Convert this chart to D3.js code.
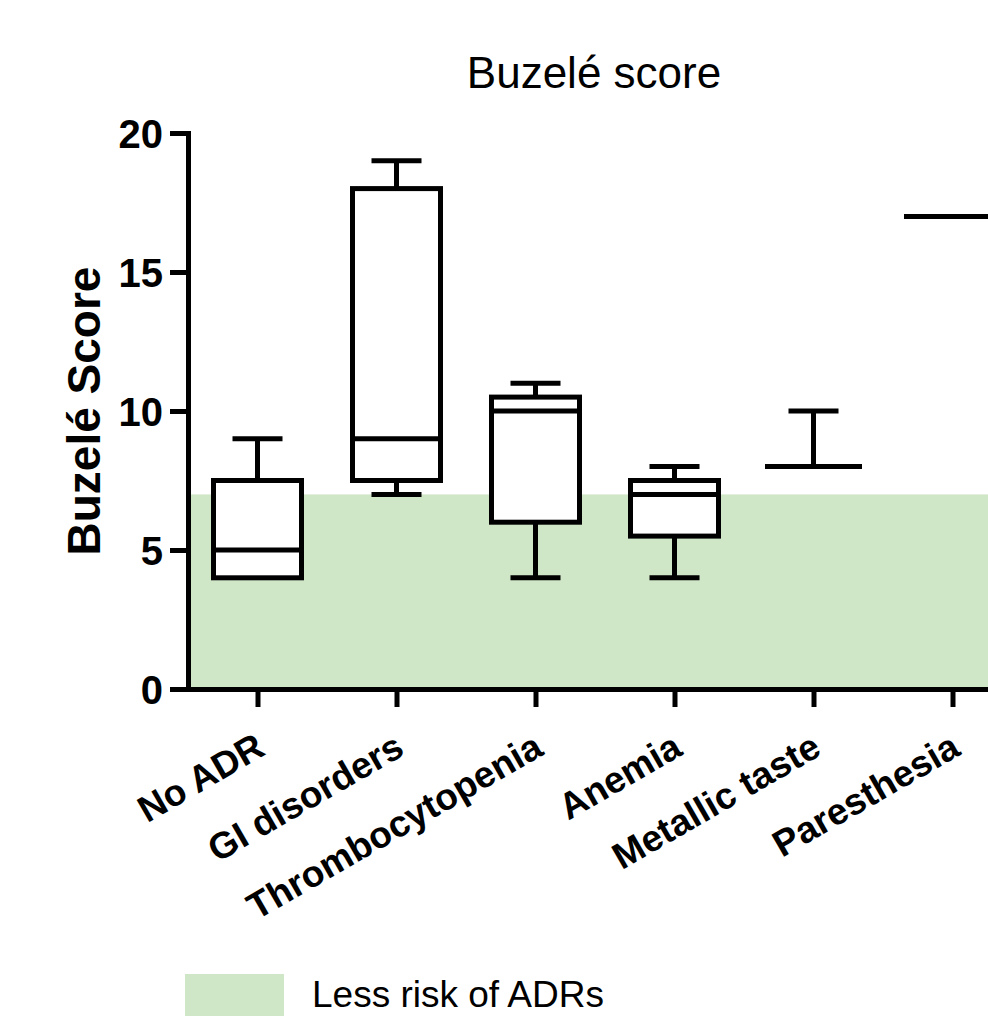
<!DOCTYPE html>
<html>
<head>
<meta charset="utf-8">
<script src="https://cdn.jsdelivr.net/npm/d3@7"></script>
<style>
  html, body { margin: 0; padding: 0; background: #fff; }
  svg { display: block; }
  text { font-family: "Liberation Sans", Arial, Helvetica, sans-serif; fill: #000; }
</style>
</head>
<body>
<svg id="chart" width="988" height="1016"></svg>
<script>
const categories = ["No ADR", "GI disorders", "Thrombocytopenia", "Anemia", "Metallic taste", "Paresthesia"];
const minVals    = [4, 7, 4, 4, 8, 17];
const q1Vals     = [4, 7.5, 6, 5.5, 8, 17];
const medianVals = [5, 9, 10, 7, 8, 17];
const q3Vals     = [7.5, 18, 10.5, 7.5, 8, 17];
const maxVals    = [9, 19, 11, 8, 10, 17];
const yTicks     = [0, 5, 10, 15, 20];
const riskThreshold = 7;
const titleText = "Buzelé score";
const yLabelText = "Buzelé Score";
const legendText = "Less risk of ADRs";

const boxes = categories.map((c, i) => ({
  cat: c, min: minVals[i], q1: q1Vals[i], med: medianVals[i], q3: q3Vals[i], max: maxVals[i]
}));

const svg = d3.select("#chart");
const plotLeft = 188, plotRight = 1022, plotTop = 133, plotBottom = 689;

const y = d3.scaleLinear().domain([0, 20]).range([plotBottom, plotTop]);
const x = d3.scalePoint().domain(categories).range([plotLeft, plotRight]).padding(0.5);

const green = "rgb(207,230,199)";
const sw = 5;
const boxHalf = 44;
const capHalf = 25;

// shaded region
svg.append("rect")
  .attr("x", plotLeft + 2).attr("y", y(riskThreshold))
  .attr("width", plotRight - plotLeft).attr("height", y(0) - y(riskThreshold))
  .attr("fill", green);

// boxes
const g = svg.append("g").attr("fill", "none").attr("stroke", "#000").attr("stroke-width", sw);
boxes.forEach(b => {
  const cx = x(b.cat);
  if (b.max > b.q3) {
    g.append("line").attr("x1", cx).attr("x2", cx).attr("y1", y(b.q3)).attr("y2", y(b.max));
    g.append("line").attr("x1", cx - capHalf).attr("x2", cx + capHalf).attr("y1", y(b.max)).attr("y2", y(b.max));
  }
  if (b.min < b.q1) {
    g.append("line").attr("x1", cx).attr("x2", cx).attr("y1", y(b.q1)).attr("y2", y(b.min));
    g.append("line").attr("x1", cx - capHalf).attr("x2", cx + capHalf).attr("y1", y(b.min)).attr("y2", y(b.min));
  }
  if (b.q3 > b.q1) {
    g.append("rect").attr("x", cx - boxHalf).attr("y", y(b.q3))
      .attr("width", boxHalf * 2).attr("height", y(b.q1) - y(b.q3))
      .attr("fill", "#fff");
    g.append("line").attr("x1", cx - boxHalf).attr("x2", cx + boxHalf).attr("y1", y(b.med)).attr("y2", y(b.med));
  } else {
    g.append("line").attr("x1", cx - boxHalf - 2).attr("x2", cx + boxHalf + 2)
      .attr("y1", y(b.med)).attr("y2", y(b.med)).attr("stroke-linecap", "square");
  }
});

// y axis
const yAxis = svg.append("g").attr("transform", `translate(${plotLeft},0)`)
  .call(d3.axisLeft(y).tickValues(yTicks).tickSize(18).tickSizeOuter(0).tickPadding(7));
yAxis.select(".domain").attr("stroke-width", sw).attr("stroke-linecap", "square");
yAxis.selectAll(".tick line").attr("stroke-width", sw);
yAxis.selectAll(".tick text")
  .style("font-size", "40px").style("font-weight", "bold")
  .attr("dy", "0.36em");

// x axis
const xAxis = svg.append("g").attr("transform", `translate(0,${plotBottom})`)
  .call(d3.axisBottom(x).tickSize(18).tickSizeOuter(0));
xAxis.select(".domain").attr("stroke-width", sw).attr("stroke-linecap", "square");
xAxis.selectAll(".tick line").attr("stroke-width", sw);
xAxis.selectAll(".tick text")
  .style("font-size", "37px").style("font-weight", "bold")
  .attr("text-anchor", "end")
  .attr("y", 0).attr("dy", 0)
  .attr("transform", "translate(9,65) rotate(-30)");

// title
svg.append("text").attr("x", 594).attr("y", 88)
  .attr("text-anchor", "middle").style("font-size", "44px")
  .text(titleText);

// y label
svg.append("text").attr("transform", `translate(100,${(plotTop + plotBottom) / 2}) rotate(-90)`)
  .attr("text-anchor", "middle").style("font-size", "46px").style("font-weight", "bold")
  .text(yLabelText);

// legend
svg.append("rect").attr("x", 185).attr("y", 974).attr("width", 99).attr("height", 42).attr("fill", green);
svg.append("text").attr("x", 312).attr("y", 1007).style("font-size", "37px").text(legendText);
</script>
</body>
</html>
